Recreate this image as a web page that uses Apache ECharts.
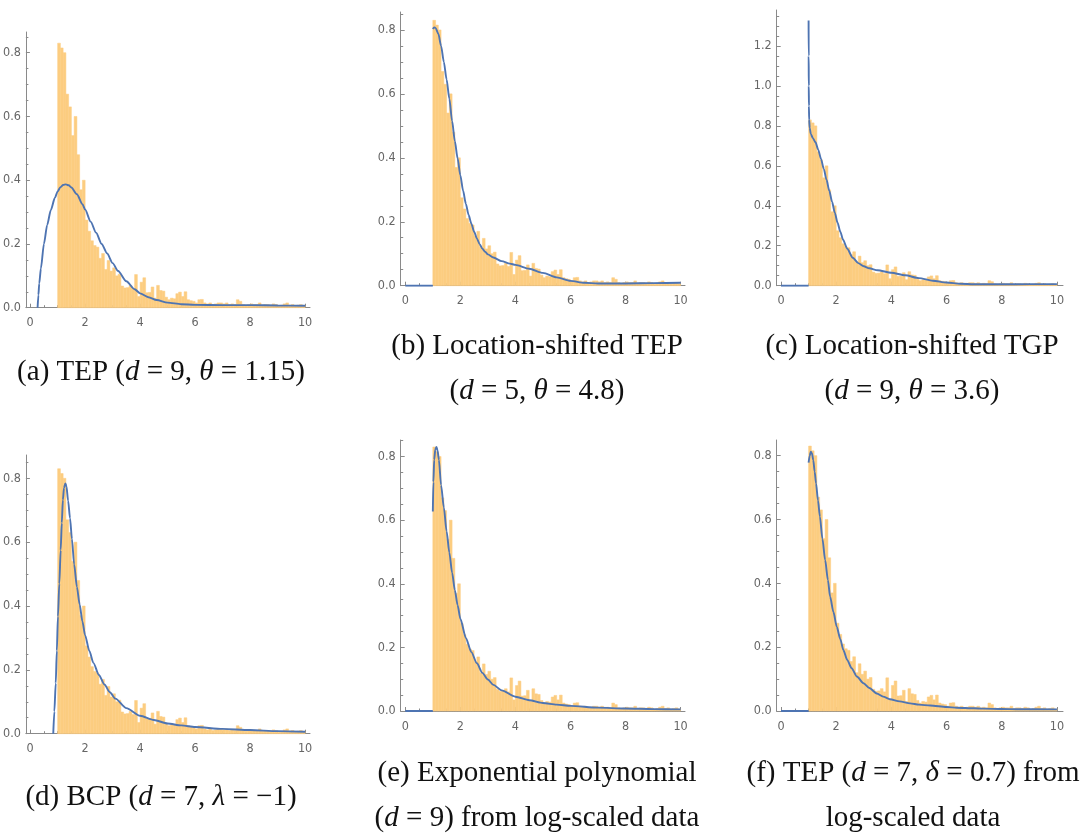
<!DOCTYPE html>
<html><head><meta charset="utf-8">
<script src="https://cdn.jsdelivr.net/npm/echarts@6/dist/echarts.min.js"></script>
<style>html,body{margin:0;padding:0;background:#fff}#c{width:1089px;height:836px}</style>
</head><body><div id="c"></div><script>
// ---------- data ----------
const binStart = 1.0;
const binWidth = 0.1;
// histogram densities, bins [1.0,1.1), [1.1,1.2), ... [9.9,10.0)
const histDensity = [
  0.83, 0.815, 0.80, 0.67, 0.63, 0.54, 0.60, 0.48, 0.37, 0.40,
  0.275, 0.24, 0.21, 0.195, 0.19, 0.155, 0.17, 0.12, 0.148, 0.115,
  0.125, 0.10, 0.105, 0.068, 0.062, 0.063, 0.07, 0.06, 0.104, 0.035,
  0.08, 0.094, 0.047, 0.048, 0.065, 0.03, 0.07, 0.054, 0.052, 0.033,
  0.025, 0.03, 0.028, 0.044, 0.049, 0.035, 0.05, 0.025, 0.022, 0.02,
  0.015, 0.025, 0.026, 0.015, 0.012, 0.015, 0.01, 0.012, 0.015, 0.015,
  0.012, 0.015, 0.01, 0.012, 0.01, 0.025, 0.02, 0.01, 0.008, 0.01,
  0.012, 0.01, 0.01, 0.015, 0.008, 0.01, 0.01, 0.008, 0.012, 0.01,
  0.005, 0.008, 0.012, 0.015, 0.008, 0.01, 0.006, 0.008, 0.01, 0.006
];
const histBins = histDensity.map((v, i) => [+(binStart + i * binWidth).toFixed(2), v]);

const curveA = [[0.27,0],[0.3,0.04],[0.33,0.076],[0.39,0.123],[0.5,0.2],[0.62,0.26],[0.75,0.306],[0.9,0.345],[1.0,0.365],[1.1,0.378],[1.2,0.385],[1.3,0.387],[1.4,0.384],[1.5,0.377],[1.7,0.356],[1.9,0.325],[2.0,0.308],[2.2,0.27],[2.4,0.235],[2.6,0.2],[2.8,0.17],[3.0,0.14],[3.2,0.115],[3.5,0.083],[3.8,0.058],[4.0,0.045],[4.3,0.033],[4.6,0.024],[5.0,0.016],[5.5,0.011],[6.0,0.009],[7,0.008],[8,0.008],[9,0.007],[10,0.006]];
const curveB = [[0,0],[1,0],[1,'-'],[1.0,0.803],[1.05,0.808],[1.1,0.806],[1.2,0.788],[1.3,0.75],[1.4,0.70],[1.5,0.645],[1.6,0.585],[1.7,0.515],[1.8,0.452],[1.9,0.398],[2.0,0.345],[2.1,0.297],[2.2,0.256],[2.3,0.221],[2.4,0.194],[2.5,0.169],[2.6,0.148],[2.7,0.13],[2.8,0.116],[2.9,0.106],[3.0,0.098],[3.2,0.088],[3.5,0.077],[3.8,0.069],[4.0,0.065],[4.5,0.053],[5.0,0.04],[5.5,0.026],[6.0,0.015],[6.5,0.009],[7.0,0.007],[8,0.007],[9,0.008],[10,0.009]];
const curveC = [[0,0],[1,0],[1,'-'],[1.0,1.327],[1.003,1.15],[1.007,1.0],[1.012,0.9],[1.02,0.83],[1.04,0.79],[1.08,0.76],[1.15,0.74],[1.25,0.718],[1.35,0.68],[1.45,0.635],[1.55,0.585],[1.65,0.53],[1.75,0.475],[1.85,0.42],[1.95,0.365],[2.05,0.315],[2.15,0.27],[2.25,0.23],[2.4,0.185],[2.6,0.14],[2.8,0.113],[3.0,0.097],[3.2,0.087],[3.5,0.077],[4.0,0.065],[4.5,0.052],[5.0,0.038],[5.5,0.025],[6.0,0.016],[6.5,0.01],[7.0,0.007],[8,0.007],[9,0.008],[10,0.008]];
const curveD = [[0.84,0],[0.88,0.07],[0.93,0.158],[0.97,0.26],[1.01,0.367],[1.06,0.47],[1.11,0.575],[1.15,0.66],[1.19,0.732],[1.23,0.77],[1.28,0.784],[1.32,0.775],[1.38,0.73],[1.45,0.675],[1.52,0.61],[1.6,0.53],[1.7,0.46],[1.8,0.405],[1.9,0.352],[2.0,0.308],[2.15,0.26],[2.3,0.222],[2.5,0.184],[2.7,0.154],[2.9,0.13],[3.1,0.11],[3.5,0.08],[4.0,0.056],[4.5,0.043],[5.0,0.032],[5.5,0.026],[6.0,0.021],[7.0,0.015],[8.0,0.0115],[9.0,0.008],[10,0.006]];
const curveE = [[0,0],[1,0],[1,'-'],[1.0,0.627],[1.02,0.72],[1.05,0.79],[1.09,0.822],[1.13,0.83],[1.17,0.82],[1.22,0.79],[1.3,0.71],[1.4,0.64],[1.5,0.565],[1.6,0.498],[1.7,0.435],[1.8,0.38],[1.9,0.333],[2.0,0.29],[2.2,0.23],[2.4,0.185],[2.6,0.15],[2.8,0.12],[3.0,0.099],[3.2,0.082],[3.5,0.065],[4.0,0.045],[4.5,0.034],[5.0,0.025],[5.5,0.02],[6.0,0.016],[7.0,0.0105],[8.0,0.0078],[9.0,0.006],[10,0.005]];
const curveF = [[0,0],[1,0],[1,'-'],[1.0,0.778],[1.04,0.80],[1.08,0.812],[1.12,0.808],[1.17,0.786],[1.22,0.75],[1.27,0.713],[1.34,0.66],[1.41,0.609],[1.5,0.54],[1.6,0.473],[1.7,0.41],[1.78,0.358],[1.9,0.31],[2.02,0.264],[2.15,0.225],[2.26,0.191],[2.4,0.16],[2.56,0.134],[2.75,0.108],[2.99,0.087],[3.2,0.072],[3.47,0.055],[3.7,0.045],[3.95,0.037],[4.3,0.03],[4.68,0.024],[5.0,0.02],[5.41,0.017],[6.0,0.0125],[6.37,0.0104],[7.0,0.0085],[7.34,0.0073],[8.0,0.0062],[8.55,0.0055],[10,0.005]];

const xTickLabels = [0, 2, 4, 6, 8, 10];
const yTickLabels = [0, 0.2, 0.4, 0.6, 0.8];
const yTickLabelsC = [0, 0.2, 0.4, 0.6, 0.8, 1.0, 1.2];

const captions = [
  ['(a) TEP ({i|d} = 9, {i|θ} = 1.15)'],
  ['(b) Location-shifted TEP', '({i|d} = 5, {i|θ} = 4.8)'],
  ['(c) Location-shifted TGP', '({i|d} = 9, {i|θ} = 3.6)'],
  ['(d) BCP ({i|d} = 7, {i|λ} = −1)'],
  ['(e) Exponential polynomial', '({i|d} = 9) from log-scaled data'],
  ['(f) TEP ({i|d} = 7, {i|δ} = 0.7) from', 'log-scaled data']
];

// ---------- layout (pixel boxes of each panel's axes) ----------
const panels = [
  {xmin:-0.156, xmax:10.18, ymax:0.865, left:25,    right:310,  top:32,  bottom:307.7, yt:yTickLabels,  curve:curveA},
  {xmin:-0.167, xmax:10.16, ymax:0.856, left:400.7, right:685,  top:12,  bottom:285.7, yt:yTickLabels,  curve:curveB},
  {xmin:-0.156, xmax:10.22, ymax:1.38,  left:776.7, right:1063, top:10,  bottom:285.7, yt:yTickLabelsC, curve:curveC},
  {xmin:-0.156, xmax:10.18, ymax:0.873, left:25,    right:310,  top:455, bottom:733.7, yt:yTickLabels,  curve:curveD},
  {xmin:-0.167, xmax:10.16, ymax:0.852, left:400.7, right:685,  top:440, bottom:711,   yt:yTickLabels,  curve:curveE},
  {xmin:-0.156, xmax:10.22, ymax:0.849, left:776.7, right:1063, top:440, bottom:711,   yt:yTickLabels,  curve:curveF}
];
const captionPos = [
  {x:161, y:[372]}, {x:537, y:[346,391]}, {x:912, y:[346,391]},
  {x:161, y:[797]}, {x:537, y:[773,818]}, {x:913, y:[773,818]}
];

const axisColor = '#8a8a8a';
const labelColor = '#666';
const tickFont = '"Liberation Sans Narrow", "DejaVu Sans Condensed", sans-serif';
const capFont = 29;

function minorVals(lo, hi, step, majors) {
  const out = [];
  for (let v = lo; v <= hi + 1e-9; v += step) {
    const r = +v.toFixed(3);
    if (!majors.some(m => Math.abs(m - r) < 1e-6)) out.push(r);
  }
  return out;
}

const grid = [], xAxis = [], yAxis = [], series = [], graphic = [];
panels.forEach((p, i) => {
  grid.push({left:p.left, top:p.top, width:p.right - p.left, height:p.bottom - p.top, containLabel:false});
  const xMinor = minorVals(0.5, 10, 0.5, xTickLabels);
  const yMinor = minorVals(0.05, p.ymax, 0.05, p.yt);
  xAxis.push({type:'value', gridIndex:i, min:p.xmin, max:p.xmax, position:'bottom',
    axisLine:{show:true, onZero:false, lineStyle:{color:axisColor, width:1}},
    axisTick:{show:true, inside:true, length:4, customValues:xTickLabels, lineStyle:{color:axisColor}},
    axisLabel:{show:true, customValues:xTickLabels, margin:9, color:labelColor, fontSize:12.5, fontFamily:tickFont},
    splitLine:{show:false}});
  xAxis.push({type:'value', gridIndex:i, min:p.xmin, max:p.xmax, position:'bottom',
    axisLine:{show:false, onZero:false},
    axisTick:{show:true, inside:true, length:2.5, customValues:xMinor, lineStyle:{color:axisColor}},
    axisLabel:{show:false}, splitLine:{show:false}});
  yAxis.push({type:'value', gridIndex:i, min:0, max:p.ymax, position:'left',
    axisLine:{show:true, onZero:false, lineStyle:{color:axisColor, width:1}},
    axisTick:{show:true, inside:true, length:4, customValues:p.yt, lineStyle:{color:axisColor}},
    axisLabel:{show:true, customValues:p.yt, margin:5, color:labelColor, fontSize:12.5, fontFamily:tickFont,
      formatter: v => v.toFixed(1)},
    splitLine:{show:false}});
  yAxis.push({type:'value', gridIndex:i, min:0, max:p.ymax, position:'left',
    axisLine:{show:false, onZero:false},
    axisTick:{show:true, inside:true, length:2.5, customValues:yMinor, lineStyle:{color:axisColor}},
    axisLabel:{show:false}, splitLine:{show:false}});

  series.push({type:'custom', xAxisIndex:2*i, yAxisIndex:2*i, data:histBins, encode:{x:0, y:1}, z:2,
    renderItem: function(params, api) {
      const x0 = api.value(0), h = api.value(1);
      const a = api.coord([x0, 0]);
      const b = api.coord([x0 + binWidth, h]);
      return {type:'rect', shape:{x:a[0], y:b[1], width:b[0] - a[0], height:a[1] - b[1]},
        style:{fill:'#FCCD80', stroke:'#FCCD80', lineWidth:0.5}};
    }});
  series.push({type:'line', xAxisIndex:2*i, yAxisIndex:2*i, data:p.curve, showSymbol:false, z:3,
    smooth:0.25, smoothMonotone:'x', connectNulls:false,
    lineStyle:{color:'#4E74B2', width:1.9}});

  const cp = captionPos[i];
  captions[i].forEach((t, k) => {
    graphic.push({type:'text', x:cp.x, y:cp.y[k],
      style:{text:t, fill:'#111', font:capFont + 'px "Liberation Serif", "Times New Roman", serif',
        align:'center', verticalAlign:'middle',
        rich:{i:{fontStyle:'italic', fontSize:capFont, fontFamily:'"Liberation Serif", serif', fill:'#111'}}}});
  });
});

const chart = echarts.init(document.getElementById('c'), null, {renderer:'canvas'});
chart.setOption({animation:false, backgroundColor:'#fff', grid, xAxis, yAxis, series, graphic});
</script></body></html>
